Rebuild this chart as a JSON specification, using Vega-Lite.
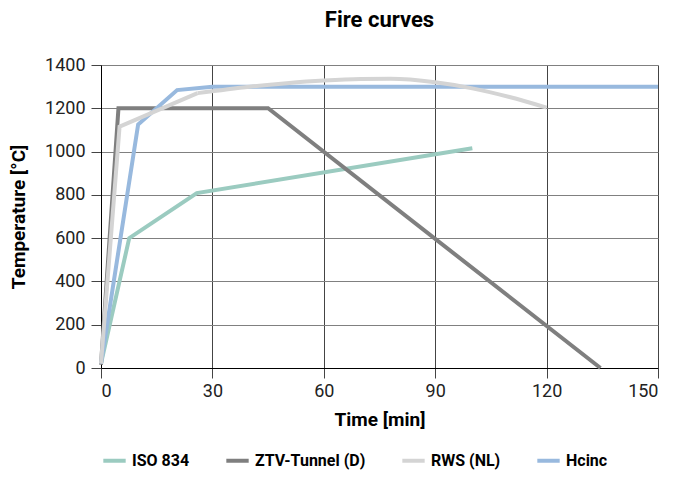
{
  "$schema": "https://vega.github.io/schema/vega-lite/v6.json",
  "width": 557,
  "height": 303,
  "autosize": {"type": "none"},
  "padding": {"left": 101, "top": 65, "right": 15, "bottom": 117},
  "title": {"text": "Fire curves", "fontSize": 22, "font": "Roboto", "fontWeight": "bold", "color": "#000", "offset": 24, "anchor": "middle"},
  "config": {
    "view": {"stroke": null},
    "font": "Roboto",
    "axis": {"labelFont": "Roboto", "titleFont": "Roboto", "labelFontSize": 18, "titleFontSize": 19, "titleFontWeight": "bold", "labelColor": "#222", "titleColor": "#000", "domainColor": "#000", "tickColor": "#444", "tickSize": 10, "format": "d"}
  },
  "data": {"values": [
    {"s": "ISO 834", "t": 0, "T": 20},
    {"s": "ISO 834", "t": 7.6, "T": 600},
    {"s": "ISO 834", "t": 25.8, "T": 808},
    {"s": "ISO 834", "t": 100, "T": 1015},
    {"s": "ZTV-Tunnel (D)", "t": 0, "T": 15},
    {"s": "ZTV-Tunnel (D)", "t": 4.7, "T": 1200},
    {"s": "ZTV-Tunnel (D)", "t": 45, "T": 1200},
    {"s": "ZTV-Tunnel (D)", "t": 134.5, "T": 0},
    {"s": "RWS (NL)", "t": 0, "T": 20},
    {"s": "RWS (NL)", "t": 5, "T": 1115},
    {"s": "RWS (NL)", "t": 26, "T": 1270},
    {"s": "RWS (NL)", "t": 40, "T": 1300},
    {"s": "RWS (NL)", "t": 50, "T": 1316},
    {"s": "RWS (NL)", "t": 60, "T": 1328},
    {"s": "RWS (NL)", "t": 70, "T": 1335},
    {"s": "RWS (NL)", "t": 78, "T": 1336},
    {"s": "RWS (NL)", "t": 90, "T": 1320},
    {"s": "RWS (NL)", "t": 100, "T": 1292},
    {"s": "RWS (NL)", "t": 110, "T": 1252},
    {"s": "RWS (NL)", "t": 120, "T": 1203},
    {"s": "Hcinc", "t": 0, "T": 20},
    {"s": "Hcinc", "t": 10, "T": 1125},
    {"s": "Hcinc", "t": 20.5, "T": 1284},
    {"s": "Hcinc", "t": 30, "T": 1300},
    {"s": "Hcinc", "t": 150, "T": 1300}
  ]},
  "encoding": {
    "x": {"field": "t", "type": "quantitative", "title": "Time [min]", "scale": {"domain": [0, 150], "nice": false}, "axis": {"values": [0, 30, 60, 90, 120, 150], "grid": true, "gridColor": "#444", "titlePadding": 10, "labelPadding": 4}},
    "y": {"field": "T", "type": "quantitative", "title": "Temperature [°C]", "scale": {"domain": [0, 1400], "nice": false}, "axis": {"values": [0, 200, 400, 600, 800, 1000, 1200, 1400], "grid": true, "gridColor": "#808080", "titlePadding": 16, "labelPadding": 6}},
    "color": {"field": "s", "type": "nominal", "title": null,
      "scale": {"domain": ["ISO 834", "ZTV-Tunnel (D)", "RWS (NL)", "Hcinc"], "range": ["#9bcbc0", "#7f7f7f", "#d4d4d4", "#98b9de"]},
      "legend": {"orient": "bottom", "direction": "horizontal", "symbolType": "stroke", "symbolStrokeWidth": 4, "symbolSize": 500, "labelFontSize": 16, "labelFontWeight": "bold", "labelColor": "#000", "columnPadding": 28, "offset": 18, "labelFont": "Roboto"}},
    "order": {"field": "t", "type": "quantitative"}
  },
  "layer": [
    {"transform": [{"filter": "datum.s !== 'RWS (NL)'"}], "mark": {"type": "line", "strokeWidth": 4, "interpolate": "linear"}},
    {"transform": [{"filter": "datum.s === 'RWS (NL)' && datum.t <= 26"}], "mark": {"type": "line", "strokeWidth": 4, "interpolate": "linear"}},
    {"transform": [{"filter": "datum.s === 'RWS (NL)' && datum.t >= 26"}], "mark": {"type": "line", "strokeWidth": 4, "interpolate": "monotone"}}
  ]
}
